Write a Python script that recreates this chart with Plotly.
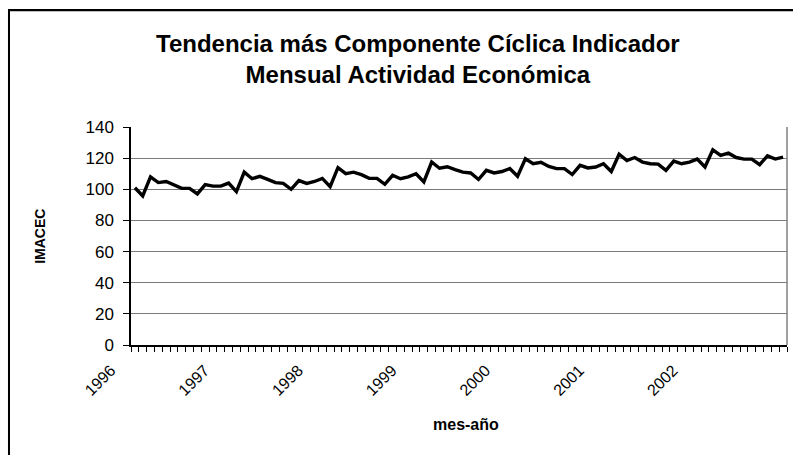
import plotly.graph_objects as go

years = ["1996", "1997", "1998", "1999", "2000", "2001", "2002"]
y_ticks = [0, 20, 40, 60, 80, 100, 120, 140]

imacec_1996 = [101, 95.7, 108, 104.3, 105, 103, 100.6, 100.6, 97, 103, 102, 102]
imacec_1997 = [104, 98.5, 111, 106.8, 108.3, 106.4, 104.3, 103.8, 100, 105.6, 103.8, 105]
imacec_1998 = [107, 101.7, 113.9, 110, 111, 109.4, 107, 107, 103.2, 109, 106.8, 108]
imacec_1999 = [110, 104.7, 117.5, 113.5, 114.5, 112.6, 111, 110.5, 106.3, 112.2, 110.5, 111.4]
imacec_2000 = [113.3, 108.4, 119.6, 116.4, 117.3, 114.7, 113.3, 113.3, 109.5, 115.4, 113.7, 114.3]
imacec_2001 = [116.4, 111.4, 122.5, 118.5, 120.4, 117.5, 116.4, 116.2, 112.2, 118.1, 116.4, 117.5]
imacec_2002 = [119.4, 114.3, 125.3, 121.7, 123.2, 120.4, 119.4, 119.4, 115.8, 121.5, 119.4, 120.6]

values = (imacec_1996 + imacec_1997 + imacec_1998 + imacec_1999
          + imacec_2000 + imacec_2001 + imacec_2002)
months = list(range(len(values)))
year_pos = [12 * i for i in range(len(years))]

FONT = "Liberation Sans, Arial, sans-serif"

fig = go.Figure()
fig.add_trace(go.Scatter(
    x=months, y=values, mode="lines",
    line=dict(color="black", width=3.4),
    hoverinfo="skip", showlegend=False,
))

fig.update_layout(
    width=793, height=455,
    margin=dict(l=131, r=6, t=127, b=110),
    paper_bgcolor="white", plot_bgcolor="white",
    font=dict(family=FONT, color="black", size=15),
    showlegend=False,
)

fig.update_xaxes(
    range=[-0.5, len(values) - 0.5],
    tickmode="array", tickvals=year_pos, ticktext=years,
    tickangle=-45, ticks="", showgrid=False,
    tickfont=dict(size=16),
    ticklabelshift=-24, ticklabelstandoff=8,
    showline=True, linecolor="black", linewidth=1.5,
    mirror=False, zeroline=False,
    minor=dict(tick0=-0.5, dtick=1, ticks="outside", ticklen=5,
               tickcolor="black", tickwidth=1, showgrid=False),
)
fig.update_yaxes(
    range=[0, 140], tickmode="array", tickvals=y_ticks,
    ticks="outside", ticklen=6, tickcolor="black",
    showgrid=True, gridcolor="#7a7a7a", gridwidth=1.3,
    showline=True, linecolor="black", linewidth=1.5,
    zeroline=False, tickfont=dict(size=17),
    ticklabelstandoff=6,
)

# plot-area border (gray) on the right
fig.add_shape(type="line", xref="paper", yref="paper", x0=1, x1=1, y0=0, y1=1,
              line=dict(color="#808080", width=1.5))
# outer chart frame: left edge and top edge (right/bottom lie outside the view)
fig.add_shape(type="line", xref="paper", yref="paper",
              x0=-0.186, x1=-0.186, y0=-0.55, y1=1.535,
              line=dict(color="black", width=2))
fig.add_shape(type="line", xref="paper", yref="paper",
              x0=-0.186, x1=1.02, y0=1.535, y1=1.535,
              line=dict(color="black", width=2))

fig.add_annotation(text="<b>Tendencia más Componente Cíclica Indicador<br>Mensual Actividad Económica</b>",
                   xref="paper", yref="paper", x=0.4375, y=1.31,
                   showarrow=False, align="center",
                   font=dict(size=24, family=FONT), xanchor="center", yanchor="middle")
fig.add_annotation(text="<b>IMACEC</b>", xref="paper", yref="paper",
                   x=-0.139, y=0.5, textangle=-90, showarrow=False,
                   font=dict(size=14, family=FONT), xanchor="center", yanchor="middle")
fig.add_annotation(text="<b>mes-año</b>", xref="paper", yref="paper",
                   x=0.511, y=-0.366, showarrow=False,
                   font=dict(size=16, family=FONT), xanchor="center", yanchor="middle")

frame_js = (
    "document.body.style.margin='0';document.body.style.overflow='hidden';"
    "var f=document.createElement('div');"
    "f.style.cssText='position:absolute;left:8px;top:9px;width:800px;height:500px;"
    "border-top:2px solid black;border-left:2px solid black;pointer-events:none;z-index:10;';"
    "document.body.appendChild(f);"
)
fig.write_html("out.html", config={"displayModeBar": False}, post_script=frame_js)
